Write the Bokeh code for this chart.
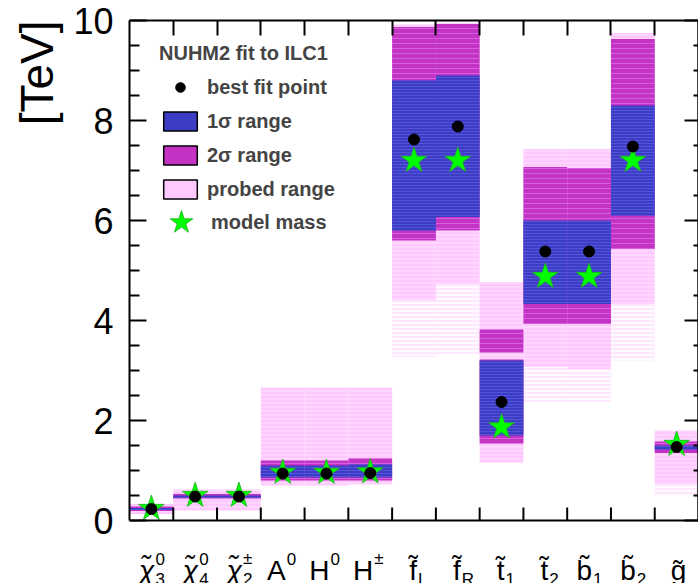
import math
from bokeh.plotting import figure
from bokeh.models import (FixedTicker, LinearAxis, Legend, LegendItem, ColumnDataSource, Title, Span, Label)
from bokeh.embed import file_html
from bokeh.resources import INLINE

# ---- data -------------------------------------------------------------
label_main = ["\u03c7\u0303", "\u03c7\u0303", "\u03c7\u0303", "A", "H", "H",
              "f\u0303", "f\u0303", "t\u0303", "t\u0303", "b\u0303", "b\u0303", "g\u0303"]
label_sup = ["0", "0", "\u00b1", "0", "0", "\u00b1", "", "", "", "", "", "", ""]
label_sub = ["3", "4", "2", "", "", "", "L", "R", "1", "2", "1", "2", ""]

probed_lo = [0.13, 0.20, 0.20, 0.70, 0.70, 0.72, 4.40, 4.73, 1.16, 3.07, 3.03, 4.33, 0.73]
probed_hi = [0.33, 0.62, 0.62, 2.66, 2.66, 2.66, 9.92, 9.95, 4.77, 7.43, 7.43, 9.75, 1.80]
sparse_lo = [0.13, 0.20, 0.20, 0.70, 0.70, 0.72, 3.27, 3.33, 1.16, 2.37, 2.37, 3.20, 0.50]

sigma2_cat = [0, 1, 2, 3, 4, 5, 6, 7, 8, 8, 9, 10, 11, 12]
sigma2_lo = [0.19, 0.44, 0.44, 0.80, 0.80, 0.80, 5.60, 5.80, 1.54, 3.36, 3.93, 3.93, 5.43, 1.35]
sigma2_hi = [0.28, 0.53, 0.53, 1.20, 1.20, 1.24, 9.87, 9.93, 3.22, 3.82, 7.07, 7.05, 9.63, 1.58]

sigma1_lo = [0.21, 0.46, 0.46, 0.86, 0.86, 0.86, 5.80, 6.07, 1.70, 4.33, 4.33, 6.10, 1.42]
sigma1_hi = [0.25, 0.50, 0.50, 1.10, 1.10, 1.12, 8.80, 8.90, 3.20, 6.00, 6.00, 8.30, 1.50]

best_fit = [0.23, 0.48, 0.48, 0.94, 0.94, 0.95, 7.62, 7.88, 2.37, 5.38, 5.38, 7.48, 1.47]
model_mass = [0.24, 0.50, 0.50, 0.96, 0.96, 0.97, 7.20, 7.20, 1.87, 4.88, 4.88, 7.20, 1.52]

y_ticks = [0, 2, 4, 6, 8, 10]
y_minor = [0.5, 1, 1.5, 2.5, 3, 3.5, 4.5, 5, 5.5, 6.5, 7, 7.5, 8.5, 9, 9.5]

y_title = "[TeV]"
legend_title = "NUHM2 fit to ILC1"
legend_labels = ["best fit point", "1\u03c3 range", "2\u03c3 range", "probed range", "model mass"]

# ---- styles -----------------------------------------------------------
FONT = "Liberation Sans"
PINK = "#ffc8ff"
MAGENTA = "#c434c4"
BLUE = "#3c3cc4"
GREEN = "#00ff00"
NAN = float("nan")
Y_MIN, Y_MAX = 0, 10
LABEL_ROOM = 1.26   # room below the x axis (in axis units) for the category labels

n = len(label_main)
cats = list(range(n))

p = figure(width=698, height=583, x_range=(0, n), y_range=(Y_MIN - LABEL_ROOM, Y_MAX),
           output_backend="svg", toolbar_location=None,
           min_border_left=129, min_border_right=0, min_border_top=20, min_border_bottom=0,
           x_axis_location=None, y_axis_location=None)
p.grid.visible = False
p.outline_line_color = None
p.background_fill_color = "white"
p.border_fill_color = "white"

# probed ranges (sparse tail + dense part)
src_probed = ColumnDataSource(dict(l=cats, r=[c + 1 for c in cats], b=probed_lo, t=probed_hi,
                                   sb=sparse_lo))
p.quad(left="l", right="r", bottom="sb", top="b", source=src_probed,
       fill_color=PINK, fill_alpha=0.45, line_color=None,
       hatch_pattern="horizontal_line", hatch_color="white", hatch_scale=4, hatch_weight=2, hatch_alpha=0.8)
p.quad(left="l", right="r", bottom="b", top="t", source=src_probed,
       fill_color=PINK, line_color=None,
       hatch_pattern="horizontal_line", hatch_color="#fff0ff", hatch_scale=4, hatch_weight=1, hatch_alpha=0.7)

src_s2 = ColumnDataSource(dict(l=sigma2_cat, r=[c + 1 for c in sigma2_cat], b=sigma2_lo, t=sigma2_hi))
p.quad(left="l", right="r", bottom="b", top="t", source=src_s2,
       fill_color=MAGENTA, line_color=None,
       hatch_pattern="horizontal_line", hatch_color="#e070e8", hatch_scale=5, hatch_weight=1, hatch_alpha=0.7)

src_s1 = ColumnDataSource(dict(l=cats, r=[c + 1 for c in cats], b=sigma1_lo, t=sigma1_hi))
p.quad(left="l", right="r", bottom="b", top="t", source=src_s1,
       fill_color=BLUE, line_color=None,
       hatch_pattern="horizontal_line", hatch_color="#5a5ae0", hatch_scale=3, hatch_weight=1, hatch_alpha=0.8)

src_pts = ColumnDataSource(dict(x=[c + 0.5 for c in cats], bf=best_fit, mm=model_mass))
p.scatter("x", "mm", source=src_pts, marker="star", size=27,
          fill_color=GREEN, line_color="#20b020", line_width=0.8)
p.scatter("x", "bf", source=src_pts, marker="circle", size=11,
          fill_color="black", line_color="black")

# ---- axes -------------------------------------------------------------
boundaries = list(range(1, n))

def style_axis(ax):
    ax.axis_line_color = "black"
    ax.axis_line_width = 2
    ax.major_tick_line_color = "black"
    ax.major_tick_line_width = 2
    ax.minor_tick_line_color = "black"
    ax.minor_tick_line_width = 2
    ax.major_tick_out = 0
    ax.minor_tick_out = 0

left = LinearAxis(ticker=FixedTicker(ticks=y_ticks, minor_ticks=y_minor), bounds=(Y_MIN, Y_MAX))
style_axis(left)
left.major_tick_in = 17
left.minor_tick_in = 10
left.major_label_text_font = FONT
left.major_label_text_font_size = "36px"
left.major_label_text_color = "black"
left.major_label_standoff = 16
p.add_layout(left, "left")
p.add_layout(Title(text=y_title, align="right", text_font=FONT, text_font_size="46px",
                   text_font_style="normal", text_color="black", standoff=15), "left")

above = LinearAxis(ticker=FixedTicker(ticks=[], minor_ticks=boundaries))
style_axis(above)
above.minor_tick_in = 15
p.add_layout(above, "above")

right_major = LinearAxis(ticker=FixedTicker(ticks=[], minor_ticks=y_ticks), bounds=(Y_MIN, Y_MAX))
style_axis(right_major)
right_major.minor_tick_in = 14
p.add_layout(right_major, "right")
right_minor = LinearAxis(ticker=FixedTicker(ticks=[], minor_ticks=y_minor), bounds=(Y_MIN, Y_MAX))
style_axis(right_minor)
right_minor.minor_tick_in = 5
p.add_layout(right_minor, "right")

# bottom axis line at y = 0 with inward ticks at the category boundaries
p.add_layout(Span(location=Y_MIN, dimension="width", line_color="black", line_width=2))
p.ray(x=boundaries, y=[Y_MIN] * len(boundaries), length=13, length_units="screen",
      angle=math.pi / 2, line_color="black", line_width=2)

# ---- legend -------------------------------------------------------------
r_dot = p.scatter(x=[NAN], y=[NAN], marker="circle", fill_color="black", line_color="black")
r_s1 = p.quad(left=[NAN], right=[NAN], top=[NAN], bottom=[NAN], fill_color=BLUE,
              line_color="black", line_width=1.5)
r_s2 = p.quad(left=[NAN], right=[NAN], top=[NAN], bottom=[NAN], fill_color=MAGENTA,
              line_color="black", line_width=1.5)
r_pr = p.quad(left=[NAN], right=[NAN], top=[NAN], bottom=[NAN], fill_color=PINK,
              line_color="black", line_width=1.5)
r_star = p.scatter(x=[NAN], y=[NAN], marker="star", fill_color=GREEN, line_color="#20b020",
                   line_width=0.8)

leg1 = Legend(items=[LegendItem(label=legend_labels[0], renderers=[r_dot]),
                     LegendItem(label=legend_labels[1], renderers=[r_s1]),
                     LegendItem(label=legend_labels[2], renderers=[r_s2]),
                     LegendItem(label=legend_labels[3], renderers=[r_pr])],
              location=(30, 382), title=legend_title,
              title_text_font=FONT, title_text_font_size="20px", title_text_font_style="bold",
              title_standoff=10,
              label_text_font=FONT, label_text_font_size="20px", label_text_font_style="bold",
              glyph_width=42, glyph_height=24, label_height=24, spacing=10, label_standoff=6,
              padding=0, margin=0, border_line_color=None, background_fill_alpha=0)
p.add_layout(leg1, "center")

leg2 = Legend(items=[LegendItem(label=legend_labels[4], renderers=[r_star])],
              location=(22, 331),
              label_text_font=FONT, label_text_font_size="20px", label_text_font_style="bold",
              glyph_width=60, glyph_height=60, label_height=24, label_standoff=-4,
              padding=0, margin=0, border_line_color=None, background_fill_alpha=0)
p.add_layout(leg2, "center")

# ---- category labels (below the x axis, inside the frame) ---------------
Y_MAIN, Y_SUP, Y_SUB = -1.0, -0.76, -1.17
for c in cats:
    has_script = bool(label_sup[c] or label_sub[c])
    kw = dict(text_font=FONT, text_font_size="28px", text_color="black",
              text_baseline="alphabetic")
    if c < 3:
        kw["text_font_style"] = "italic"
    if has_script:
        p.add_layout(Label(x=c + 0.5, y=Y_MAIN, x_offset=3, text=label_main[c],
                           text_align="right", **kw))
    else:
        p.add_layout(Label(x=c + 0.5, y=Y_MAIN, x_offset=2, text=label_main[c],
                           text_align="center", **kw))
    skw = dict(text_font=FONT, text_font_size="17px", text_color="black",
               text_baseline="alphabetic", text_align="left")
    if label_sup[c]:
        p.add_layout(Label(x=c + 0.5, y=Y_SUP, x_offset=4, text=label_sup[c], **skw))
    if label_sub[c]:
        p.add_layout(Label(x=c + 0.5, y=Y_SUB, x_offset=4, text=label_sub[c], **skw))

open("out.html", "w").write(file_html(p, INLINE))
